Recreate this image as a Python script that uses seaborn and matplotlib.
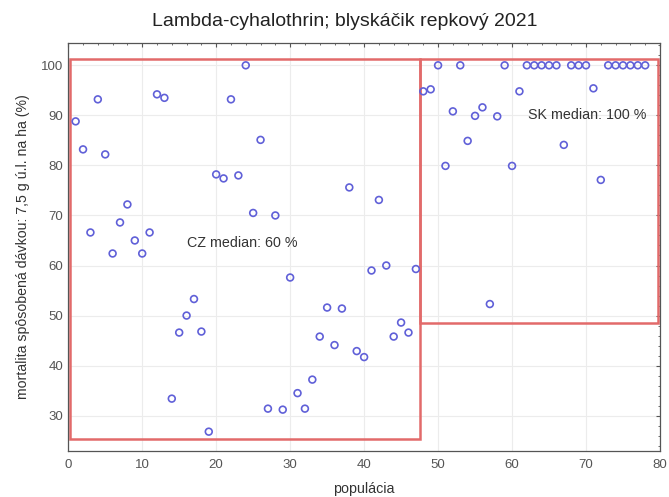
import matplotlib
matplotlib.use("Agg")
import matplotlib.pyplot as plt
from matplotlib.patches import Rectangle
from matplotlib.ticker import MultipleLocator
import seaborn as sns
import pandas as pd

# ---- data ----
cz_x = list(range(1, 48))
cz_y = [88.8, 83.2, 66.6, 93.2, 82.2, 62.4, 68.6, 72.2, 65.0, 62.4,
        66.6, 94.2, 93.5, 33.4, 46.6, 50.0, 53.3, 46.8, 26.8, 78.2,
        77.4, 93.2, 78.0, 100.0, 70.5, 85.1, 31.4, 70.0, 31.2, 57.6,
        34.5, 31.4, 37.2, 45.8, 51.6, 44.1, 51.4, 75.6, 42.9, 41.7,
        59.0, 73.1, 60.0, 45.8, 48.6, 46.6, 59.3]
sk_x = list(range(48, 79))
sk_y = [94.8, 95.2, 100.0, 79.9, 90.8, 100.0, 84.9, 89.9, 91.6, 52.3,
        89.8, 100.0, 79.9, 94.8, 100.0, 100.0, 100.0, 100.0, 100.0, 84.1,
        100.0, 100.0, 100.0, 95.4, 77.1, 100.0, 100.0, 100.0, 100.0, 100.0,
        100.0]
groups = ["CZ", "SK"]
medians = [60, 100]
# group boxes: (x0, x1, y0, y1)
boxes = [(0.2, 47.6, 25.4, 101.3), (47.6, 79.8, 48.6, 101.3)]
label_pos = [(16.0, 64.5), (62.1, 90.1)]

title = "Lambda-cyhalothrin; blyskáčik repkový 2021"
xlabel = "populácia"
ylabel = "mortalita spôsobená dávkou: 7,5 g ú.l. na ha (%)"

df = pd.DataFrame({"x": cz_x + sk_x, "y": cz_y + sk_y})

sns.set_style("white")
plt.rcParams["font.family"] = ["Liberation Sans", "DejaVu Sans"]

fig = plt.figure(figsize=(6.69, 4.97), dpi=100)
ax = fig.add_axes([0.102, 0.0932, 0.8845, 0.8197])

ax.grid(True, color="#ececec", linewidth=0.8, zorder=0)
ax.set_axisbelow(True)

for (x0, x1, y0, y1) in boxes:
    ax.add_patch(Rectangle((x0, y0), x1 - x0, y1 - y0, fill=False,
                           edgecolor="#e26a6a", linewidth=1.8, zorder=2))

sns.scatterplot(data=df, x="x", y="y", ax=ax, marker="o", s=24,
                facecolors="none", edgecolor="#6060d8", linewidth=1.2,
                zorder=3, legend=False)

for g, m, (tx, ty) in zip(groups, medians, label_pos):
    ax.text(tx, ty, f"{g} median: {m} %", fontsize=10.3, color="#333333",
            ha="left", va="center", zorder=4)

ax.set_xlim(0, 80)
ax.set_ylim(23, 104.4)
ax.xaxis.set_major_locator(MultipleLocator(10))
ax.xaxis.set_minor_locator(MultipleLocator(2))
ax.yaxis.set_major_locator(MultipleLocator(10))
ax.yaxis.set_minor_locator(MultipleLocator(2))
ax.set_yticks(range(30, 101, 10))
ax.tick_params(which="both", direction="in", top=True, right=True,
               color="#555555")
ax.tick_params(which="major", length=3, width=0.8, labelsize=9.5,
               labelcolor="#555555")
ax.tick_params(axis="x", which="major", pad=6)
ax.tick_params(which="minor", length=1.5, width=0.6)
for s in ax.spines.values():
    s.set_color("#555555")
    s.set_linewidth(0.9)

fig.text(345 / 669, 1 - 22 / 497, title, fontsize=14, color="#222222",
         ha="center", va="center")
ax.set_xlabel(xlabel, fontsize=10.3, color="#333333", labelpad=8)
ax.set_ylabel(ylabel, fontsize=10.2, color="#333333", labelpad=8)

fig.savefig("out.png", dpi=100)
